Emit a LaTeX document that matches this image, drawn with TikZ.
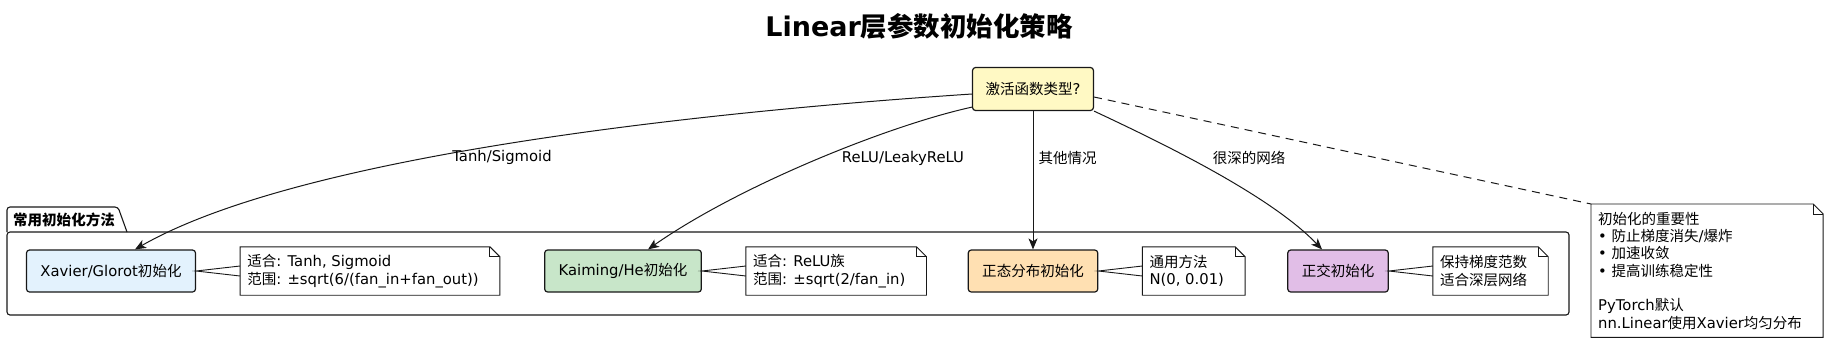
\documentclass[tikz,border=0pt]{standalone}
\usepackage{fontspec}
\setmainfont{DejaVu Sans}
\newfontfamily\cjkfont{Noto Sans CJK SC}[Scale=0.98]
\usepackage{tikz}
\usetikzlibrary{arrows.meta,positioning}
% switch to the CJK font for runs of ideographs
\XeTeXinterchartokenstate=1
\newXeTeXintercharclass\cjkclass
\count255="4E00
\loop\XeTeXcharclass\count255=\cjkclass
\ifnum\count255<"9FFF\advance\count255 by 1\repeat
\XeTeXinterchartoks 0 \cjkclass = {\begingroup\cjkfont}
\XeTeXinterchartoks 4095 \cjkclass = {\begingroup\cjkfont}
\XeTeXinterchartoks \cjkclass 0 = {\endgroup}
\XeTeXinterchartoks \cjkclass 4095 = {\endgroup}
\definecolor{edgegray}{RGB}{24,24,24}
\definecolor{xavierfill}{RGB}{227,242,253}
\definecolor{kaimingfill}{RGB}{200,230,201}
\definecolor{normalfill}{RGB}{255,224,178}
\definecolor{orthofill}{RGB}{225,190,231}
\definecolor{decidefill}{RGB}{255,249,196}
\tikzset{
  headline/.style={font=\fontsize{27}{31}\selectfont\bfseries},
  decision/.style={rectangle, rounded corners=3pt, draw=edgegray, line width=1.2pt, fill=decidefill, minimum height=43pt, inner xsep=13pt, font=\fontsize{14.8}{17}\selectfont},
  method/.style={rectangle, rounded corners=3pt, draw=edgegray, line width=1.2pt, minimum height=42pt, inner xsep=14pt, font=\fontsize{14.8}{17}\selectfont},
  memo/.style={align=left, inner xsep=7pt, inner ysep=5pt, minimum height=48pt, font=\fontsize{14.8}{17.6}\selectfont},
  notepen/.style={draw=edgegray, line width=0.9pt},
  pkgline/.style={draw=edgegray, line width=1.1pt},
  pkglabel/.style={font=\fontsize{14.8}{17}\selectfont\bfseries},
  branch/.style={font=\fontsize{14.8}{17}\selectfont},
  arrow/.style={line width=1pt, draw=edgegray, -{Stealth[length=11pt,width=9pt,inset=3pt]}},
  dashline/.style={line width=1pt, draw=edgegray, dash pattern=on 8pt off 6pt},
}
% outline of a note with its folded corner
\newcommand{\foldnote}[1]{%
  \draw[notepen] (#1.north west) -- ([xshift=4pt]#1.north east) -- ([xshift=14pt,yshift=-10pt]#1.north east) -- ([xshift=14pt]#1.south east) -- (#1.south west) -- cycle;
  \draw[notepen] ([xshift=4pt]#1.north east) |- ([xshift=14pt,yshift=-10pt]#1.north east);
}
\begin{document}
\begin{tikzpicture}[x=1pt, y=-1pt]
\useasboundingbox (0,0) rectangle (1840,360);

\node[headline] (title) at (919,26) {Linear层参数初始化策略};
\node[decision] (decide) at (1033,89) {激活函数类型?};

% package
\draw[pkgline, rounded corners=3pt] (7,232) -- (7,207) -- (118,207) -- (127,232);
\draw[pkgline, rounded corners=3pt] (7,232) rectangle (1569,315);
\node[pkglabel] (pkgname) at (64,220) {常用初始化方法};

\node[method, fill=xavierfill] (xavier) at (111,271) {Xavier/Glorot初始化};
\node[method, fill=kaimingfill] (kaiming) at (623,271) {Kaiming/He初始化};
\node[method, fill=normalfill] (normal) at (1033,271) {正态分布初始化};
\node[method, fill=orthofill] (ortho) at (1338,271) {正交初始化};

\node[memo, right=44pt of xavier] (xnote) {适合: Tanh, Sigmoid\\范围: ±sqrt(6/(fan\_in+fan\_out))};
\node[memo, right=44pt of kaiming] (knote) {适合: ReLU族\\范围: ±sqrt(2/fan\_in)};
\node[memo, right=44pt of normal] (nnote) {通用方法\\N(0, 0.01)};
\node[memo, right=44pt of ortho] (onote) {保持梯度范数\\适合深层网络};
\node[memo, anchor=north west, minimum height=133pt, font=\fontsize{14.8}{17.3}\selectfont] (why) at (1591,204) {初始化的重要性\\• 防止梯度消失/爆炸\\• 加速收敛\\• 提高训练稳定性\\[17.3pt]PyTorch默认\\nn.Linear使用Xavier均匀分布};

\foldnote{xnote}
\foldnote{knote}
\foldnote{nnote}
\foldnote{onote}
\foldnote{why}

\draw[notepen] ([yshift=5pt]xnote.west) -- (xavier.east) -- ([yshift=-5pt]xnote.west);
\draw[notepen] ([yshift=5pt]knote.west) -- (kaiming.east) -- ([yshift=-5pt]knote.west);
\draw[notepen] ([yshift=5pt]nnote.west) -- (normal.east) -- ([yshift=-5pt]nnote.west);
\draw[notepen] ([yshift=5pt]onote.west) -- (ortho.east) -- ([yshift=-5pt]onote.west);

% branches
\draw[arrow] ([yshift=-5pt]decide.west) .. controls (700,112) and (300,155) .. ([xshift=24pt]xavier.north);
\draw[arrow] ([yshift=4pt]decide.south west) .. controls (890,125) and (740,185) .. ([xshift=25pt]kaiming.north);
\draw[arrow] (decide.south) -- (normal.north);
\draw[arrow] (decide.south east) .. controls (1160,142) and (1270,195) .. ([xshift=-16pt]ortho.north);
\draw[dashline] ([yshift=-8pt]decide.east) -- (why.north west);

\node[branch] (ltanh) at (502,157) {Tanh/Sigmoid};
\node[branch] (lrelu) at (903,158) {ReLU/LeakyReLU};
\node[branch, anchor=west] (lother) at (1035,158) {其他情况};
\node[branch] (ldeep) at (1249,158) {很深的网络};
\end{tikzpicture}
\end{document}
